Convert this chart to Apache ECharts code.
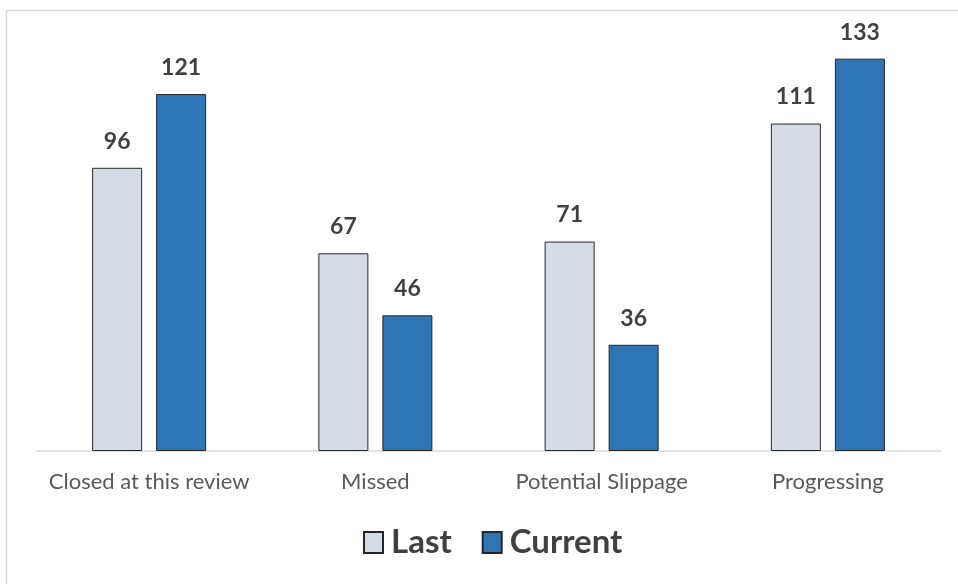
<!DOCTYPE html>
<html>
<head>
<meta charset="utf-8">
<script src="https://cdn.jsdelivr.net/npm/echarts@6/dist/echarts.min.js"></script>
<style>
  html, body { margin: 0; padding: 0; background: #ffffff; }
  #chart { width: 958px; height: 584px; }
</style>
</head>
<body>
<div id="chart"></div>
<script>
// Review status counts, last period vs current period
const categories = ['Closed at this review', 'Missed', 'Potential Slippage', 'Progressing'];
const lastValues = [96, 67, 71, 111];
const currentValues = [121, 46, 36, 133];
const seriesNames = ['Last', 'Current'];

const chart = echarts.init(document.getElementById('chart'), null, { renderer: 'canvas' });

const labelStyle = {
  show: true,
  position: 'top',
  distance: 15,
  fontFamily: 'Lato, "Open Sans", sans-serif',
  fontWeight: 'bold',
  fontSize: 23,
  color: '#404040'
};

chart.setOption({
  animation: false,
  backgroundColor: '#ffffff',
  graphic: [{
    type: 'rect',
    left: 4,
    top: 8,
    shape: { width: 1000, height: 700 },
    style: { fill: 'none', stroke: '#d9d9d9', lineWidth: 1.5 },
    silent: true,
    z: -1
  }],
  grid: { left: 36, right: 17, top: 38, bottom: 133, containLabel: false },
  legend: {
    data: seriesNames,
    bottom: 20,
    left: 358,
    icon: 'rect',
    itemWidth: 19,
    itemHeight: 21,
    itemGap: 30,
    textStyle: {
      fontFamily: 'Lato, "Open Sans", sans-serif',
      fontWeight: 'bold',
      fontSize: 33,
      color: '#404040',
      padding: [0, 0, 0, 3]
    }
  },
  xAxis: {
    type: 'category',
    data: categories,
    axisLine: { lineStyle: { color: '#d9d9d9', width: 1.5 } },
    axisTick: { show: false },
    axisLabel: {
      interval: 0,
      margin: 20,
      fontFamily: 'Lato, "Open Sans", sans-serif',
      fontSize: 22,
      color: '#595959'
    }
  },
  yAxis: {
    type: 'value',
    min: 0,
    max: 140,
    show: false,
    splitLine: { show: false }
  },
  series: [
    {
      name: seriesNames[0],
      type: 'bar',
      data: lastValues,
      barWidth: 50,
      barGap: '28%',
      itemStyle: { color: '#d6dce5', borderColor: '#262626', borderWidth: 1 },
      label: labelStyle
    },
    {
      name: seriesNames[1],
      type: 'bar',
      data: currentValues,
      barWidth: 50,
      itemStyle: { color: '#2e75b6', borderColor: '#262626', borderWidth: 1 },
      label: labelStyle
    }
  ]
});
</script>
</body>
</html>
